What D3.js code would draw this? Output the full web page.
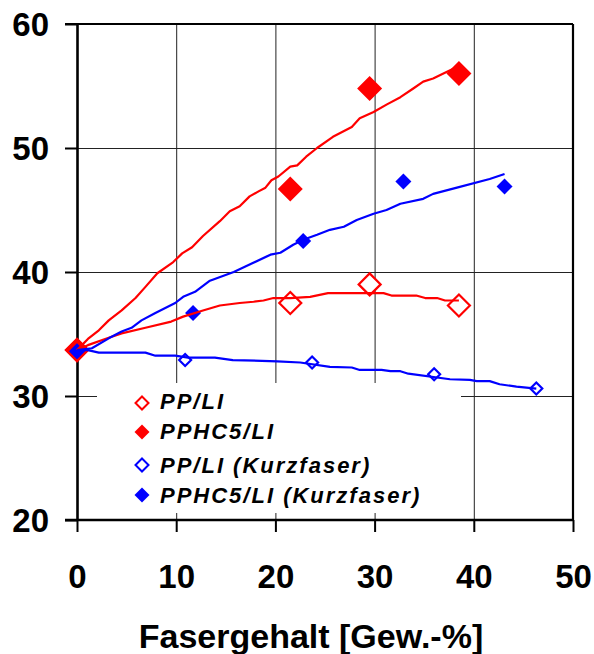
<!DOCTYPE html>
<html>
<head>
<meta charset="utf-8">
<script src="https://cdn.jsdelivr.net/npm/d3@7"></script>
<style>
  body { margin: 0; background: #fff; }
  svg { display: block; font-family: "Liberation Sans", Arial, sans-serif; }
  .tickAxis text { font-size: 33px; font-weight: bold; fill: #000; }
  .tickAxis line { stroke: #000; stroke-width: 2; }
  .tickAxis .domain { stroke: #000; stroke-width: 2.6; }
  .grid line { stroke: #222; stroke-width: 1; }
  .grid .domain { display: none; }
  .legend text { font-size: 22px; font-weight: bold; font-style: italic; letter-spacing: 2px; }
</style>
</head>
<body>
<div id="chart"></div>
<script>
const xTicks = [0, 10, 20, 30, 40, 50];
const yTicks = [20, 30, 40, 50, 60];
const seriesNames = ['PP/LI', 'PPHC5/LI', 'PP/LI (Kurzfaser)', 'PPHC5/LI (Kurzfaser)'];
const seriesColors = ['#ff0000', '#ff0000', '#0000ff', '#0000ff'];
const seriesFilled = [false, true, false, true];

// measured points [Fasergehalt, value]
const ppPts = [[0, 33.7], [21.5, 37.5], [29.5, 39.0], [38.5, 37.3]];
const ppHc5Pts = [[0, 33.7], [21.5, 46.7], [29.5, 54.8], [38.5, 56.0]];
const ppKPts = [[0, 33.6], [10.9, 32.9], [23.7, 32.7], [36, 31.75], [46.3, 30.6]];
const ppHc5KPts = [[0, 33.6], [11.7, 36.7], [22.8, 42.5], [32.9, 47.3], [43.1, 46.9]];

// model curves
const ppFit = [[0, 33.7], [1.1, 34.1], [3.2, 34.7], [4.5, 35.05], [6.9, 35.5], [9.5, 36.0], [10.7, 36.4],
  [12.7, 36.9], [14.4, 37.3], [16.4, 37.5], [17.8, 37.6], [18.8, 37.7], [19.8, 37.9], [21.5, 37.9],
  [23.5, 38.0], [25.3, 38.3], [30.9, 38.3], [31.7, 38.1], [34.2, 38.1], [35.1, 37.9], [36.3, 37.9],
  [37.1, 37.7], [38.5, 37.7]];
const ppHc5Fit = [[0, 33.7], [1.1, 34.6], [2.2, 35.3], [3.2, 36.1], [4.5, 36.9], [5.9, 37.9], [6.9, 38.8],
  [8.1, 39.9], [9.7, 40.8], [10.6, 41.5], [11.6, 42.0], [12.7, 42.9], [14.4, 44.1], [15.4, 44.9],
  [16.4, 45.3], [17.4, 46.1], [18.3, 46.5], [19.0, 46.8], [19.6, 47.4], [20.3, 47.7], [21.5, 48.5],
  [22.2, 48.6], [23.1, 49.3], [24.2, 50.0], [25.8, 50.9], [27.7, 51.7], [28.5, 52.4], [29.9, 52.9],
  [31.2, 53.5], [32.6, 54.1], [33.9, 54.8], [34.9, 55.35], [35.9, 55.6], [37.3, 56.15], [38.2, 56.5]];
const ppKFit = [[0, 33.7], [1.1, 33.7], [2.2, 33.5], [6.9, 33.5], [7.9, 33.25], [9.9, 33.25], [11.2, 33.1],
  [13.9, 33.1], [15.7, 32.9], [20.2, 32.8], [22.5, 32.7], [25.5, 32.35], [27.7, 32.3], [28.5, 32.1],
  [30.7, 32.1], [31.6, 32.0], [32.6, 32.0], [33.4, 31.8], [37.6, 31.35], [39.6, 31.3], [40.3, 31.2],
  [41.6, 31.2], [42.6, 30.95], [44.3, 30.75], [46.3, 30.6]];
const ppHc5KFit = [[0, 33.7], [1.5, 33.85], [3.2, 34.65], [4.5, 35.2], [5.5, 35.5], [6.5, 36.1], [7.9, 36.7],
  [9.9, 37.5], [10.7, 38.0], [11.9, 38.4], [13.4, 39.3], [15.8, 40.0], [17.4, 40.6], [19.5, 41.4],
  [20.5, 41.55], [21.8, 42.2], [22.8, 42.6], [24.2, 43.0], [25.5, 43.4], [26.9, 43.65], [28.2, 44.2],
  [29.9, 44.7], [31.2, 45.0], [32.6, 45.5], [34.9, 45.9], [35.9, 46.3], [38.3, 46.8], [41.6, 47.5],
  [43.1, 47.9]];

const seriesPts = [ppPts, ppHc5Pts, ppKPts, ppHc5KPts];
const seriesFits = [ppFit, ppHc5Fit, ppKFit, ppHc5KFit];
const markerSize = [12, 12.5, 7, 8]; // half diagonal

const W = 594, H = 654;
const plot = {left: 77, right: 573, top: 24, bottom: 520};

const svg = d3.select('#chart').append('svg')
  .attr('width', W)
  .attr('height', H);

const x = d3.scaleLinear().domain([0, 50]).range([plot.left, plot.right]);
const y = d3.scaleLinear().domain([20, 60]).range([plot.bottom, plot.top]);

const diamond = r => `M0,${-r}L${r},0L0,${r}L${-r},0Z`;

// grid
svg.append('g')
  .attr('class', 'grid')
  .attr('transform', `translate(0,${plot.bottom})`)
  .call(d3.axisBottom(x).tickValues(xTicks.slice(1, -1)).tickSize(-(plot.bottom - plot.top)).tickFormat(''));
svg.append('g')
  .attr('class', 'grid')
  .attr('transform', `translate(${plot.left},0)`)
  .call(d3.axisLeft(y).tickValues(yTicks.slice(1, -1)).tickSize(-(plot.right - plot.left)).tickFormat(''));

// legend background hides the grid
const legend = svg.append('g').attr('class', 'legend');
legend.append('rect')
  .attr('x', 97).attr('y', 383)
  .attr('width', 364).attr('height', 130)
  .attr('fill', '#fff');

// frame
svg.append('line')
  .attr('x1', plot.left - 12).attr('x2', plot.right)
  .attr('y1', plot.top).attr('y2', plot.top)
  .attr('stroke', '#000').attr('stroke-width', 2.2);
svg.append('line')
  .attr('x1', plot.right).attr('x2', plot.right)
  .attr('y1', plot.top).attr('y2', plot.bottom)
  .attr('stroke', '#000').attr('stroke-width', 2.2);

// axes
svg.append('g')
  .attr('class', 'tickAxis')
  .attr('transform', `translate(0,${plot.bottom})`)
  .call(d3.axisBottom(x).tickValues(xTicks).tickSize(12).tickPadding(33).tickSizeOuter(0))
  .call(g => g.select('.domain').attr('d', `M${plot.left - 12},0H${plot.right}`));
svg.append('g')
  .attr('class', 'tickAxis')
  .attr('transform', `translate(${plot.left},0)`)
  .call(d3.axisLeft(y).tickValues(yTicks).tickSize(12).tickPadding(16).tickSizeOuter(0))
  .call(g => g.selectAll('.tick text').attr('dy', '0.36em'));

// markers
seriesPts.forEach((pts, i) => {
  svg.append('g')
    .selectAll('path')
    .data(pts)
    .enter().append('path')
    .attr('transform', d => `translate(${x(d[0])},${y(d[1])})`)
    .attr('d', diamond(seriesFilled[i] ? markerSize[i] : markerSize[i] - 1))
    .attr('fill', seriesFilled[i] ? seriesColors[i] : '#fff')
    .attr('stroke', seriesColors[i])
    .attr('stroke-width', seriesFilled[i] ? 0 : 2.2);
});

// model lines
const line = d3.line().x(d => x(d[0])).y(d => y(d[1]));
seriesFits.forEach((fit, i) => {
  svg.append('path')
    .datum(fit)
    .attr('d', line)
    .attr('fill', 'none')
    .attr('stroke', seriesColors[i])
    .attr('stroke-width', 2.2)
    .attr('stroke-linejoin', 'round');
});

// legend entries
const legendY = [403, 432, 465, 495];
const legendBase = [409, 439, 472.5, 502.5];
seriesNames.forEach((name, i) => {
  legend.append('path')
    .attr('transform', `translate(142,${legendY[i]})`)
    .attr('d', diamond(seriesFilled[i] ? 7.5 : 6.5))
    .attr('fill', seriesFilled[i] ? seriesColors[i] : '#fff')
    .attr('stroke', seriesColors[i])
    .attr('stroke-width', seriesFilled[i] ? 0 : 2);
  legend.append('text')
    .attr('x', 160)
    .attr('y', legendBase[i])
    .text(name);
});

// x axis title
svg.append('text')
  .attr('x', 311)
  .attr('y', 648)
  .attr('text-anchor', 'middle')
  .attr('font-size', 34)
  .attr('font-weight', 'bold')
  .text('Fasergehalt [Gew.-%]');
</script>
</body>
</html>
